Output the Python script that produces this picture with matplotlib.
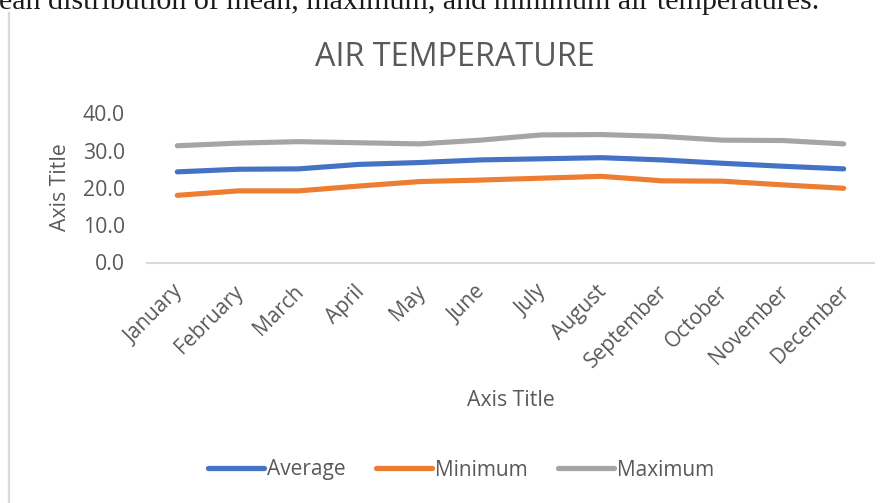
import matplotlib
matplotlib.use("Agg")
import matplotlib.pyplot as plt
from matplotlib.lines import Line2D
import matplotlib.transforms as mtransforms

months = ["January", "February", "March", "April", "May", "June", "July",
          "August", "September", "October", "November", "December"]
average = [24.3, 25.0, 25.1, 26.3, 26.8, 27.5, 27.8, 28.1, 27.5, 26.6, 25.8, 25.1]
minimum = [18.0, 19.2, 19.2, 20.5, 21.7, 22.1, 22.6, 23.1, 21.9, 21.8, 20.8, 19.9]
maximum = [31.3, 32.0, 32.4, 32.1, 31.8, 32.8, 34.2, 34.3, 33.8, 32.8, 32.7, 31.8]
yticks = [0, 10, 20, 30, 40]

W, H = 891, 503
fig = plt.figure(figsize=(W / 100, H / 100), dpi=100)
fig.patch.set_facecolor("white")

FONT = "Open Sans"
TXT = "#595959"

ax = fig.add_axes([147 / W, 1 - 262.5 / H, (874 - 147) / W, (262.5 - 113.3) / H])
x = list(range(len(months)))
lw = 3.7
ax.plot(x, average, color="#4472C4", lw=lw, solid_capstyle="round", solid_joinstyle="round", label="Average")
ax.plot(x, minimum, color="#ED7D31", lw=lw, solid_capstyle="round", solid_joinstyle="round", label="Minimum")
ax.plot(x, maximum, color="#A5A5A5", lw=lw, solid_capstyle="round", solid_joinstyle="round", label="Maximum")

ax.set_xlim(-0.5, len(months) - 0.5)
ax.set_ylim(0, 40)
ax.set_yticks(yticks)
ax.set_yticklabels([f"{v:.1f}" for v in yticks], fontfamily=FONT, fontsize=15.3, color=TXT)
ax.set_xticks(x)
ax.set_xticklabels(months, fontfamily=FONT, fontsize=15, color=TXT,
                   rotation=45, ha="right", va="center", rotation_mode="anchor")
ax.tick_params(axis="y", length=0, pad=16)
ax.tick_params(axis="x", length=0, pad=19)
offset = mtransforms.ScaledTranslation(2.5 / 100, 0, fig.dpi_scale_trans)
for lab in ax.get_xticklabels():
    lab.set_transform(lab.get_transform() + offset)
for s in ["top", "right", "left"]:
    ax.spines[s].set_visible(False)
ax.spines["bottom"].set_color("#d9d9d9")
ax.spines["bottom"].set_linewidth(1.5)
ax.set_facecolor("none")

fig.text(455 / W, 1 - 58 / H, "AIR TEMPERATURE", ha="center", va="center",
         fontfamily=FONT, fontsize=23.3, color=TXT)
fig.text(510.5 / W, 1 - 400 / H, "Axis Title", ha="center", va="center",
         fontfamily=FONT, fontsize=15.3, color=TXT)
fig.text(60 / W, 1 - 187 / H, "Axis Title", ha="center", va="center", rotation=90,
         fontfamily=FONT, fontsize=15.3, color=TXT)

leg = fig.legend(loc="center", bbox_to_anchor=(461 / W, 1 - 470 / H), ncol=3, frameon=False,
                 prop={"family": FONT, "size": 15}, handlelength=2.7, handletextpad=0.15,
                 columnspacing=1.45)
for t in leg.get_texts():
    t.set_color(TXT)
for h in leg.legend_handles:
    h.set_linewidth(3.8)

# chart area left border
fig.add_artist(Line2D([8.5 / W, 8.5 / W], [0, 1 - 13 / H], transform=fig.transFigure,
                      color="#d9d9d9", lw=1.6))

# clipped caption text above the chart (cut off at the top in the reference)
cap = fig.text(-1 / W, 1 - 9 / H, "ean distribution of mean, maximum, and minimum air temperatures.",
               ha="left", va="baseline", fontfamily="Liberation Serif", fontsize=22, color="#1a1a1a")
fig.canvas.draw()
bb = cap.get_window_extent()
cap.set_fontsize(22 * 818 / bb.width)

fig.savefig("out.png", dpi=100, facecolor="white")
